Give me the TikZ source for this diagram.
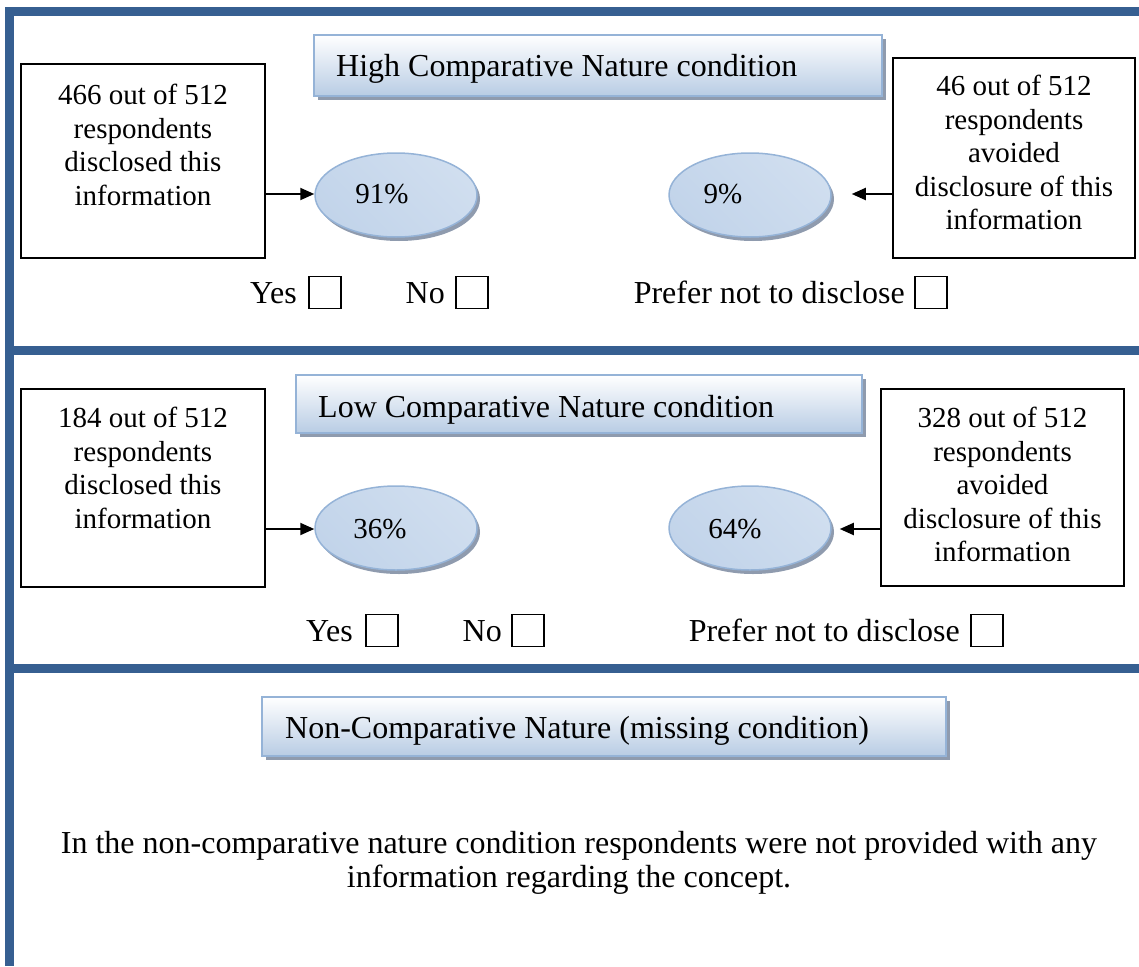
\documentclass[tikz,border=0pt]{standalone}
\usepackage{fontspec}
\setmainfont{Liberation Serif}
\usetikzlibrary{arrows.meta,shapes.geometric,shadows}

\definecolor{framebar}{HTML}{365F91}
\definecolor{titleedge}{HTML}{95B3D7}
\definecolor{titlelow}{HTML}{B8CCE4}
\definecolor{shadowgray}{HTML}{8F9BAE}
\definecolor{ovalhi}{HTML}{E6EEF7}
\definecolor{ovallo}{HTML}{C2D4EA}
\definecolor{ovalmid}{HTML}{D0DEEF}

\tikzset{
  txt/.style={font=\fontsize{29}{33.5}\selectfont, inner sep=0pt},
  big/.style={font=\fontsize{32}{34}\selectfont, inner sep=0pt},
  titlebox/.style={draw=titleedge, line width=2pt, top color=white, bottom color=titlelow,
    inner sep=0pt,
    drop shadow={shadow xshift=4pt, shadow yshift=-4pt, fill=shadowgray, opacity=1}},
  titletext/.style={big, anchor=base west},
  infobox/.style={draw=black, line width=1.5pt, inner sep=0pt},
  infotext/.style={txt, align=center, anchor=north},
  oval/.style={ellipse, draw=titleedge, line width=1.5pt, inner sep=0pt,
    minimum width=162pt, minimum height=84pt,
    left color=ovallo, middle color=ovalhi, right color=ovalmid, shading angle=135,
    drop shadow={shadow xshift=3pt, shadow yshift=-4pt, fill=shadowgray, opacity=1}},
  chk/.style={draw=black, line width=1.5pt, minimum size=32pt, inner sep=0pt},
  word/.style={big, anchor=base east},
  pointer/.style={line width=2pt, -{Triangle[length=14pt,width=12pt]}},
}

\begin{document}
\begin{tikzpicture}[x=1pt,y=-1pt]
\useasboundingbox (0,0) rectangle (1139,966);

% page frame and section dividers
\fill[framebar] (5,7) rectangle (1139,16);
\fill[framebar] (5,7) rectangle (14,966);
\fill[framebar] (14,346) rectangle (1139,355);
\fill[framebar] (14,664) rectangle (1139,673);

% ---------- High comparative nature ----------
\node[titlebox, minimum width=568pt, minimum height=61pt] (t1) at (598,65.5) {};
\node[titletext] (tt1) at (336,77) {High Comparative Nature condition};

\node[infobox, minimum width=244pt, minimum height=194pt] (lb1) at (143,161) {};
\node[infotext] (lt1) at (143,84) {466 out of 512\\respondents\\disclosed this\\information};

\node[infobox, minimum width=242pt, minimum height=200pt] (rb1) at (1014,158) {};
\node[infotext] (rt1) at (1014,75) {46 out of 512\\respondents\\avoided\\disclosure of this\\information};

\node[oval] (e1) at (396,195) {};
\node[txt] (p1) at ([xshift=-14pt,yshift=1pt]e1.center) {91\%};
\node[oval] (e2) at (750,195) {};
\node[txt] (p2) at ([xshift=-27pt,yshift=1pt]e2.center) {9\%};

\draw[pointer] (lb1.east |- p1) -- (e1.west |- p1);
\coordinate (a2) at ([xshift=20pt]e2.east |- p2);
\draw[pointer] (rb1.west |- p2) -- (a2);

\node[chk] (c1) at (325,292.5) {};
\node[word] (w1) at (297,303.5) {Yes};
\node[chk] (c2) at (472,292.5) {};
\node[word] (w2) at (445,303.5) {No};
\node[chk] (c3) at (931,292.5) {};
\node[word] (w3) at (905,303.5) {Prefer not to disclose};

% ---------- Low comparative nature ----------
\node[titlebox, minimum width=566pt, minimum height=58pt] (t2) at (579,404) {};
\node[titletext] (tt2) at (318,417) {Low Comparative Nature condition};

\node[infobox, minimum width=244pt, minimum height=198pt] (lb2) at (143,488) {};
\node[infotext] (lt2) at (143,407) {184 out of 512\\respondents\\disclosed this\\information};

\node[infobox, minimum width=243pt, minimum height=197pt] (rb2) at (1002.5,487.5) {};
\node[infotext] (rt2) at (1002.5,407) {328 out of 512\\respondents\\avoided\\disclosure of this\\information};

\node[oval] (e3) at (396,528) {};
\node[txt] (p3) at ([xshift=-16pt,yshift=-1pt]e3.center) {36\%};
\node[oval] (e4) at (750,528) {};
\node[txt] (p4) at ([xshift=-15pt,yshift=-1pt]e4.center) {64\%};

\draw[pointer] (lb2.east |- p3) -- (e3.west |- p3);
\coordinate (a4) at ([xshift=8pt]e4.east |- p4);
\draw[pointer] (rb2.west |- p4) -- (a4);

\node[chk] (c4) at (382,630.5) {};
\node[word] (w4) at (353,641.5) {Yes};
\node[chk] (c5) at (528,630.5) {};
\node[word] (w5) at (502,641.5) {No};
\node[chk] (c6) at (987,630.5) {};
\node[word] (w6) at (960,641.5) {Prefer not to disclose};

% ---------- Non-comparative nature ----------
\node[titlebox, minimum width=684pt, minimum height=59pt] (t3) at (604,726.5) {};
\node[titletext] (tt3) at (285,738) {Non-Comparative Nature (missing condition)};

\node[big, anchor=base] (note1) at (579,853)
  {In the non-comparative nature condition respondents were not provided with any};
\node[big, anchor=base] (note2) at (569,887) {information regarding the concept.};
\end{tikzpicture}
\end{document}
